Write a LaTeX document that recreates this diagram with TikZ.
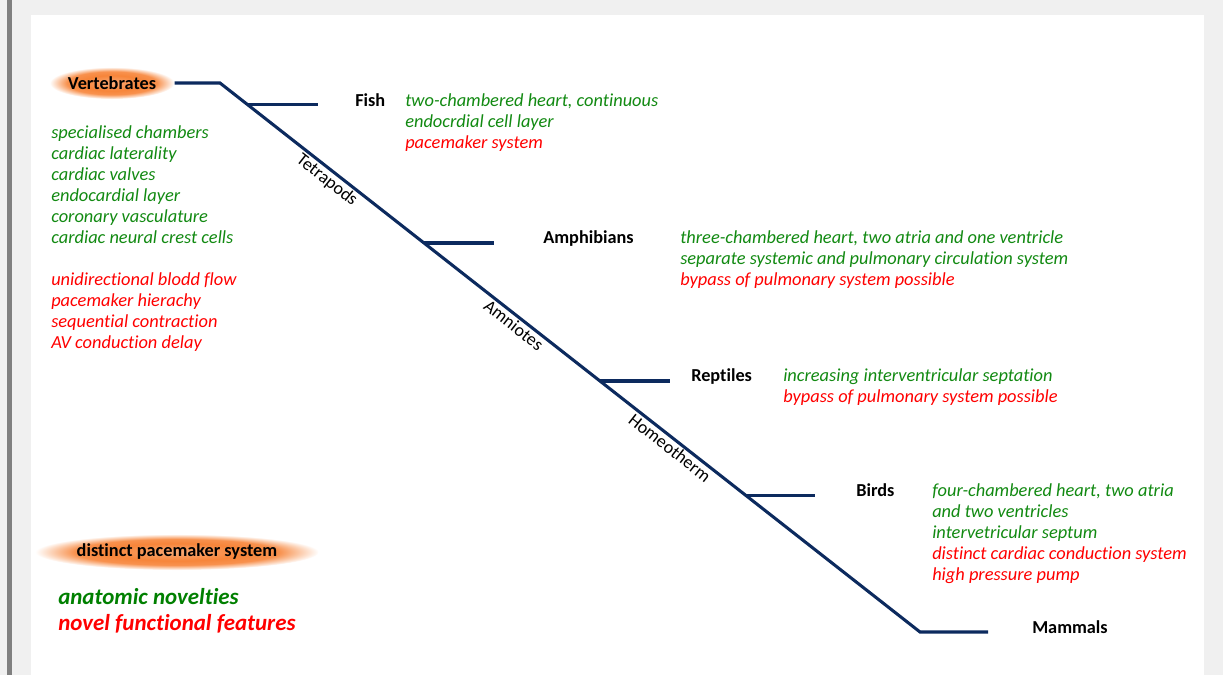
\documentclass[tikz,border=0pt]{standalone}
\usepackage{fontspec}
\setmainfont{Carlito}[Ligatures=NoCommon]
\usetikzlibrary{positioning,calc,shapes.geometric}
\definecolor{navy}{HTML}{0C2A5E}
\definecolor{leaf}{HTML}{128A12}
\definecolor{fred}{HTML}{FF0000}
\definecolor{glow}{HTML}{F7853A}
\pgfdeclareradialshading{glowshade}{\pgfpoint{0cm}{0cm}}{color(0bp)=(glow!70!white); color(12bp)=(glow); color(18bp)=(glow!90!white); color(25bp)=(white); color(50bp)=(white)}

\begin{document}
\begin{tikzpicture}[x=0.75pt, y=-0.75pt,
    branch/.style={line width=2.3pt, navy},
    taxon/.style={font=\fontsize{13.7}{15.75}\selectfont\bfseries, inner sep=0pt, anchor=base west},
    clade/.style={font=\fontsize{13.5}{15.75}\selectfont, sloped, below, inner sep=2pt},
    trait/.style={font=\fontsize{13.8}{15.75}\selectfont\itshape, text=leaf,
                  align=left, anchor=north west, inner sep=0pt},
    halo/.style={ellipse, shade, shading=glowshade, inner sep=0pt,
                 font=\fontsize{13.7}{15.75}\selectfont\bfseries}]
  \useasboundingbox (0,0) rectangle (1223,675);
  \fill[black!6] (0,0) rectangle (1223,675);
  \fill[white] (31,15) rectangle (1204,675);
  \fill[black!50] (7,0) rectangle (12,675);

  \node[halo, minimum width=93pt, minimum height=24pt] (vert) at (112,83) {Vertebrates};
  \node[halo, minimum width=196pt, minimum height=27pt] (pace) at (177,552) {distinct pacemaker system};

  \coordinate (root) at (220,83);
  \coordinate (mbase) at (920,632);
  \coordinate (mend) at (988,632);
  \draw[branch] (vert) -- (root) -- (mbase) -- (mend);
  \path (root) -- (mbase) coordinate[pos=0.040] (fishfork) coordinate[pos=0.2914] (amphfork)
        coordinate[pos=0.5428] (reptfork) coordinate[pos=0.7505] (birdfork);
  \foreach \f in {fish,amph,rept,bird}
    \draw[branch] (\f fork) -- ++(70,0) coordinate (\f tip);

  \path (root) -- (mbase) node[clade, pos=0.162] (tetra) {Tetrapods}
        node[clade, pos=0.428] (amnio) {Amniotes}
        node[clade, pos=0.651] (homeo) {Homeotherm};

  \node[taxon] (fish) at (355,106) {Fish};
  \node[taxon] (amph) at (543,243) {Amphibians};
  \node[taxon] (rept) at (691,381) {Reptiles};
  \node[taxon] (bird) at (856,496) {Birds};
  \node[taxon] (mamm) at (1032,633) {Mammals};

  \node[trait] (verttr) at (51,125) {specialised chambers\\ cardiac laterality\\ cardiac valves\\
    endocardial layer\\ coronary vasculature\\ cardiac neural crest cells\\[15.75pt]
    \textcolor{fred}{unidirectional blodd flow}\\ \textcolor{fred}{pacemaker hierachy}\\
    \textcolor{fred}{sequential contraction}\\ \textcolor{fred}{AV conduction delay}};
  \node[trait] (fishtr) at (405,93) {two-chambered heart, continuous\\ endocrdial cell layer\\
    \textcolor{fred}{pacemaker system}};
  \node[trait] (amphtr) at (680,230) {three-chambered heart, two atria and one ventricle\\
    separate systemic and pulmonary circulation system\\
    \textcolor{fred}{bypass of pulmonary system possible}};
  \node[trait] (repttr) at (783,368) {increasing interventricular septation\\
    \textcolor{fred}{bypass of pulmonary system possible}};
  \node[trait] (birdtr) at (932,483) {four-chambered heart, two atria\\ and two ventricles\\
    intervetricular septum\\ \textcolor{fred}{distinct cardiac conduction system}\\
    \textcolor{fred}{high pressure pump}};

  \node[trait, font=\fontsize{17.2}{19.5}\selectfont\bfseries\itshape, text=green!50!black]
    (legend) at (58,588) {anatomic novelties\\ \textcolor{fred}{novel functional features}};
\end{tikzpicture}
\end{document}
